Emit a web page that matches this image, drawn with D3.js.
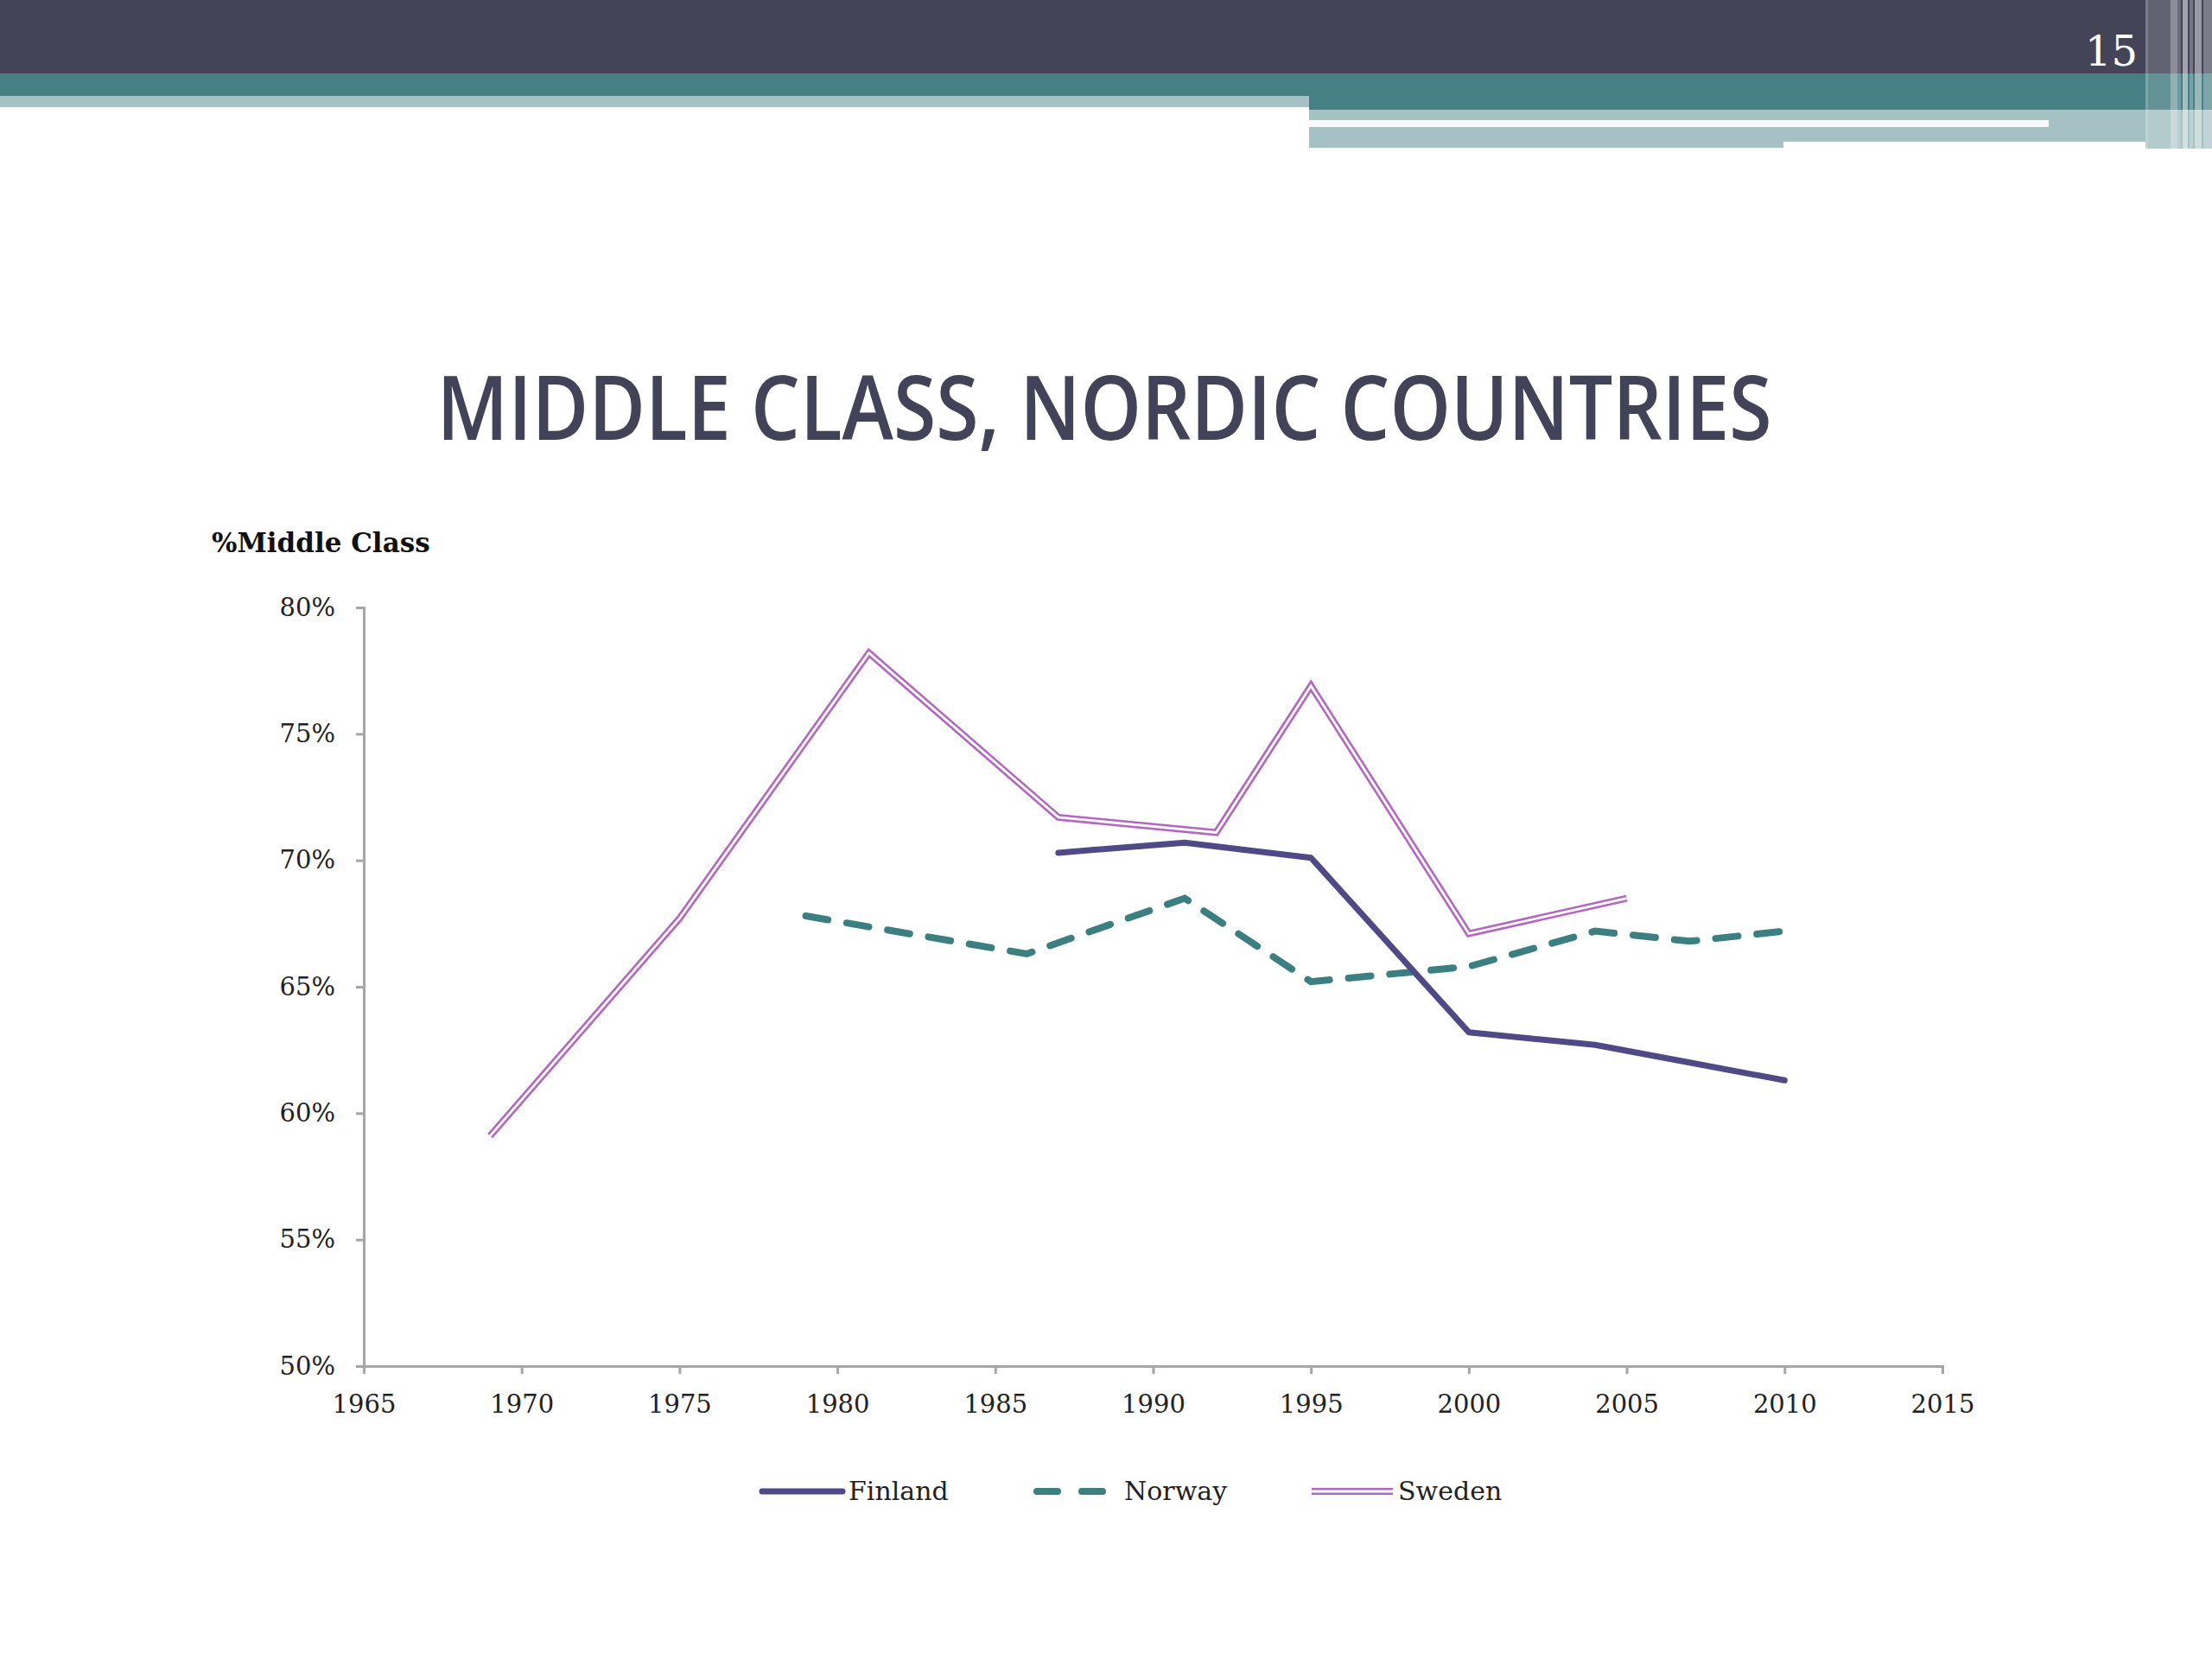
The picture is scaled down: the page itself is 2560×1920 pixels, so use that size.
<!DOCTYPE html>
<html>
<head>
<meta charset="utf-8">
<script src="https://cdn.jsdelivr.net/npm/d3@7"></script>
<style>
  html, body { margin: 0; padding: 0; background: #fff; }
  svg { display: block; }
</style>
</head>
<body>
<svg width="2560" height="1920"></svg>
<script>
// data
const finlandYears = [1987, 1991, 1995, 2000, 2004, 2007, 2010];
const finlandValues = [0.703, 0.707, 0.701, 0.632, 0.627, 0.620, 0.613];

const norwayYears = [1979, 1986, 1991, 1995, 2000, 2004, 2007, 2010];
const norwayValues = [0.678, 0.663, 0.685, 0.652, 0.658, 0.672, 0.668, 0.672];

const swedenYears = [1969, 1975, 1981, 1987, 1992, 1995, 2000, 2005];
const swedenValues = [0.591, 0.677, 0.782, 0.717, 0.711, 0.769, 0.671, 0.685];

const xTicks = [1965, 1970, 1975, 1980, 1985, 1990, 1995, 2000, 2005, 2010, 2015];
const yTicks = [0.50, 0.55, 0.60, 0.65, 0.70, 0.75, 0.80];

const seriesNames = ["Finland", "Norway", "Sweden"];

const svg = d3.select("svg");
const serif = "'DejaVu Serif', Georgia, serif";

/* -----------------------------
   Slide header bands
----------------------------- */

const head = svg.append("g");
head.append("rect").attr("x", 0).attr("y", 0).attr("width", 2560).attr("height", 85).attr("fill", "#434458");
head.append("rect").attr("x", 0).attr("y", 85).attr("width", 1515).attr("height", 26).attr("fill", "#467f84");
head.append("rect").attr("x", 0).attr("y", 111).attr("width", 1515).attr("height", 13).attr("fill", "#a5c1c4");
head.append("rect").attr("x", 1515).attr("y", 85).attr("width", 1045).attr("height", 42).attr("fill", "#467f84");
head.append("rect").attr("x", 1515).attr("y", 127).attr("width", 549).attr("height", 44).attr("fill", "#a5c1c4");
head.append("rect").attr("x", 2064).attr("y", 127).attr("width", 496).attr("height", 37).attr("fill", "#a5c1c4");
head.append("rect").attr("x", 2483).attr("y", 127).attr("width", 77).attr("height", 45).attr("fill", "#a5c1c4");
head.append("rect").attr("x", 1515).attr("y", 139).attr("width", 856).attr("height", 8).attr("fill", "#f7fbfc");

// vertical stripes at the right edge
const stripes = [
  [2483, 3, 0.3], [2486, 26, 0.16], [2512, 8, 0.4], [2520, 4, 0.22],
  [2526, 6, 0.5], [2534, 4, 0.28], [2540, 8, 0.45], [2550, 10, 0.3]
];
stripes.forEach(([x, w, o]) => {
  head.append("rect").attr("x", x).attr("y", 0).attr("width", w).attr("height", 172)
    .attr("fill", "#ffffff").attr("opacity", o);
});

head.append("text")
  .attr("x", 2474).attr("y", 76)
  .attr("text-anchor", "end")
  .attr("font-family", serif)
  .attr("font-size", 48)
  .attr("fill", "#ffffff")
  .text("15");

/* -----------------------------
   Title
----------------------------- */

svg.append("text")
  .attr("x", 1278).attr("y", 509)
  .attr("text-anchor", "middle")
  .attr("font-family", "'Open Sans', sans-serif")
  .attr("font-weight", 600)
  .attr("font-size", 104)
  .attr("fill", "#424258")
  .attr("textLength", 1545)
  .attr("lengthAdjust", "spacingAndGlyphs")
  .text("MIDDLE CLASS, NORDIC COUNTRIES");

svg.append("text")
  .attr("x", 245).attr("y", 639)
  .attr("font-family", serif)
  .attr("font-weight", "bold")
  .attr("font-size", 31)
  .attr("fill", "#111")
  .text("%Middle Class");

/* -----------------------------
   Scales and axes
----------------------------- */

const x = d3.scaleLinear().domain([1965, 2015]).range([421, 2248]);
const y = d3.scaleLinear().domain([0.5, 0.8]).range([1581, 703]);

const yAxis = svg.append("g")
  .attr("transform", `translate(${x(1965)},0)`)
  .call(d3.axisLeft(y).tickValues(yTicks).tickFormat(d3.format(".0%")).tickSize(9).tickPadding(24));

const xAxis = svg.append("g")
  .attr("transform", `translate(0,${y(0.5)})`)
  .call(d3.axisBottom(x).tickValues(xTicks).tickFormat(d3.format("d")).tickSize(9).tickPadding(24));

[yAxis, xAxis].forEach(a => {
  a.select(".domain").attr("stroke", "#a6a6a6").attr("stroke-width", 3);
  a.selectAll(".tick line").attr("stroke", "#a6a6a6").attr("stroke-width", 3);
  a.selectAll(".tick text")
    .attr("font-family", serif)
    .attr("font-size", 29)
    .attr("fill", "#222");
});

/* -----------------------------
   Lines
----------------------------- */

const line = d3.line().x(d => x(d[0])).y(d => y(d[1]));

const finland = d3.zip(finlandYears, finlandValues);
const norway = d3.zip(norwayYears, norwayValues);
const sweden = d3.zip(swedenYears, swedenValues);

svg.append("path")
  .datum(norway)
  .attr("fill", "none")
  .attr("stroke", "#3b7f80")
  .attr("stroke-width", 8)
  .attr("stroke-linecap", "round")
  .attr("stroke-dasharray", "26 22")
  .attr("d", line);

svg.append("path")
  .datum(finland)
  .attr("fill", "none")
  .attr("stroke", "#4f4a85")
  .attr("stroke-width", 7)
  .attr("stroke-linecap", "round")
  .attr("stroke-linejoin", "round")
  .attr("d", line);

// compound (double) line for Sweden
svg.append("path")
  .datum(sweden)
  .attr("fill", "none")
  .attr("stroke", "#b466c2")
  .attr("stroke-width", 8)
  .attr("stroke-linejoin", "miter")
  .attr("d", line);

svg.append("path")
  .datum(sweden)
  .attr("fill", "none")
  .attr("stroke", "#ffffff")
  .attr("stroke-width", 2.8)
  .attr("stroke-linejoin", "miter")
  .attr("d", line);

/* -----------------------------
   Legend
----------------------------- */

const legendX = [882, 1200, 1518];
const legend = svg.append("g").attr("transform", "translate(0,1726)");

seriesNames.forEach((name, i) => {
  const g = legend.append("g").attr("transform", `translate(${legendX[i]},0)`);
  if (name === "Finland") {
    g.append("line").attr("x1", 0).attr("x2", 93).attr("y1", 0).attr("y2", 0)
      .attr("stroke", "#4f4a85").attr("stroke-width", 7).attr("stroke-linecap", "round");
  } else if (name === "Norway") {
    g.append("line").attr("x1", 0).attr("x2", 85).attr("y1", 0).attr("y2", 0)
      .attr("stroke", "#3b7f80").attr("stroke-width", 8).attr("stroke-linecap", "round")
      .attr("stroke-dasharray", "24 28");
  } else {
    g.append("line").attr("x1", 0).attr("x2", 94).attr("y1", 0).attr("y2", 0)
      .attr("stroke", "#b466c2").attr("stroke-width", 8);
    g.append("line").attr("x1", 0).attr("x2", 94).attr("y1", 0).attr("y2", 0)
      .attr("stroke", "#ffffff").attr("stroke-width", 2.8);
  }
  g.append("text")
    .attr("x", i === 1 ? 101 : 100)
    .attr("y", 10)
    .attr("font-family", serif)
    .attr("font-size", 30)
    .attr("fill", "#222")
    .text(name);
});
</script>
</body>
</html>
